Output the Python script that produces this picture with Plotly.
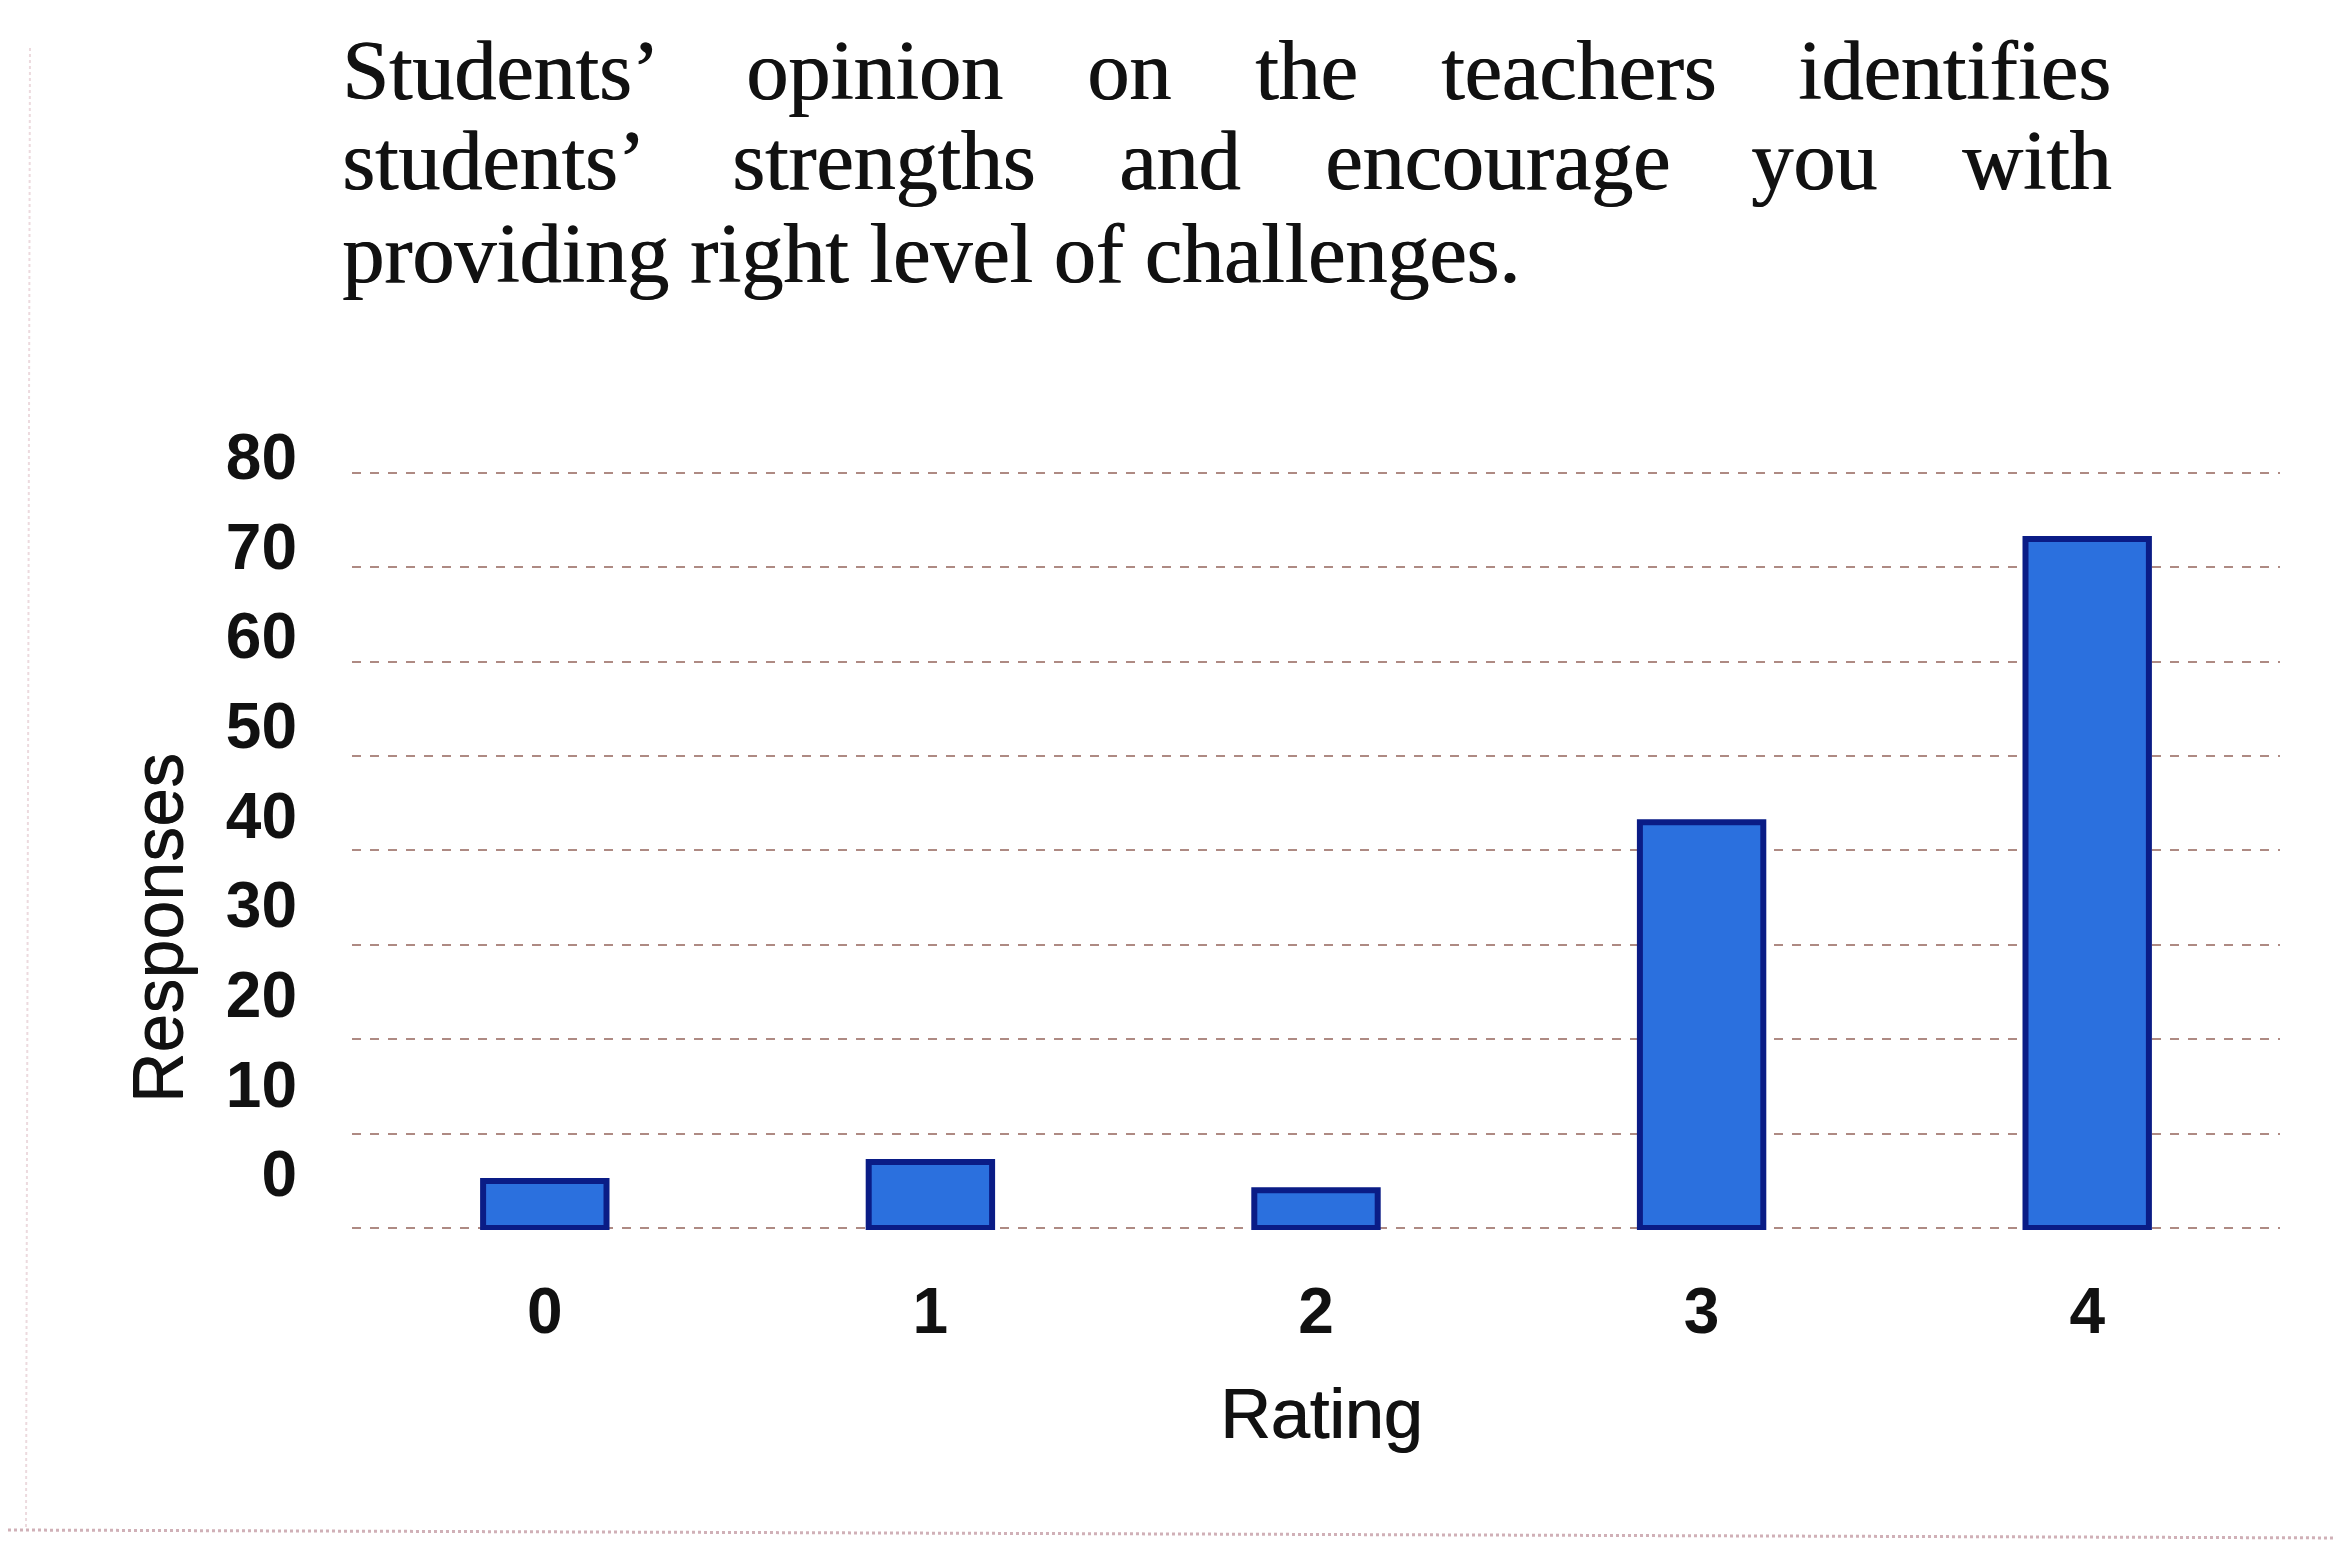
import plotly.graph_objects as go

# ---- data ----
ratings = [0, 1, 2, 3, 4]
responses = [5, 7, 4, 43, 73]
y_ticks = [0, 10, 20, 30, 40, 50, 60, 70, 80]
x_tick_labels = ["0", "1", "2", "3", "4"]

title_line1 = ["Students’", "opinion", "on", "the", "teachers", "identifies"]
title_line2 = ["students’", "strengths", "and", "encourage", "you", "with"]
title_line3 = "providing right level of challenges."

# ---- layout geometry (pixels) ----
W, H = 2344, 1543
L, R, T, B = 344, 72, 445, 321
PW, PH = W - L - R, H - T - B


def px_x(x):
    return (x - L) / PW


def px_y(y):
    return (H - B - y) / PH


fig = go.Figure()
fig.add_trace(go.Bar(
    x=ratings, y=responses, width=0.32,
    marker=dict(color="#2b70de", line=dict(color="#0a1c86", width=6)),
))
# invisible trace carrying the (offset) tick-label axis as in the scanned original
fig.add_trace(go.Scatter(x=[ratings[0]], y=[y_ticks[0]], yaxis="y2", mode="markers",
                         marker=dict(opacity=0), hoverinfo="skip"))

ann = []
serif = dict(family="Liberation Serif", size=84, color="#111111", shadow="1px 0px 0px #111111")
# justified title lines: first word left, last word right, middle words centred
line1_x = [332, 866, 1121, 1298, 1570, 2105]
line2_x = [332, 875, 1171, 1489, 1806, 2105]
for words, xs, yc in [(title_line1, line1_x, 62), (title_line2, line2_x, 153)]:
    n = len(words)
    for i, (w, x) in enumerate(zip(words, xs)):
        anchor = "left" if i == 0 else ("right" if i == n - 1 else "center")
        ann.append(dict(text=w, x=px_x(x), y=px_y(yc), xref="paper", yref="paper",
                        xanchor=anchor, yanchor="middle", showarrow=False, font=serif))
ann.append(dict(text=title_line3, x=px_x(332), y=px_y(245), xref="paper", yref="paper",
                xanchor="left", yanchor="middle", showarrow=False, font=serif))

sans_title = dict(family="Liberation Sans", size=70, color="#111111", shadow="1px 0px 0px #111111")
ann.append(dict(text="Rating", x=px_x(1313), y=px_y(1406), xref="paper", yref="paper",
                xanchor="center", yanchor="middle", showarrow=False, font=sans_title))
ann.append(dict(text="Responses", x=px_x(150), y=px_y(920), xref="paper", yref="paper",
                xanchor="center", yanchor="middle", showarrow=False, textangle=-90,
                font=dict(family="Liberation Sans", size=70, color="#111111",
                          shadow="0px 1px 0px #111111")))

tick_font = dict(family="Liberation Sans", size=64, color="#111111", weight="bold")

fig.update_layout(
    width=W, height=H,
    margin=dict(l=L, r=R, t=T, b=B, pad=0),
    paper_bgcolor="white", plot_bgcolor="white",
    showlegend=False,
    annotations=ann,
    shapes=[
        dict(type="line", xref="paper", yref="paper",
             x0=px_x(0), x1=px_x(2344), y0=px_y(1522), y1=px_y(1530),
             line=dict(color="rgba(150,80,95,0.45)", width=3, dash="dot")),
        dict(type="line", xref="paper", yref="paper",
             x0=px_x(22), x1=px_x(18), y0=px_y(40), y1=px_y(1520),
             line=dict(color="rgba(200,150,160,0.35)", width=2, dash="dot")),
    ],
    xaxis=dict(
        range=[-0.5, 4.5], tickmode="array", tickvals=ratings, ticktext=x_tick_labels,
        showgrid=False, zeroline=False, showline=False, ticks="",
        tickfont=tick_font, ticklabelstandoff=38,
    ),
    yaxis=dict(
        range=[-0.2, 82.1], tickmode="array", tickvals=y_ticks, showticklabels=False,
        showgrid=True, gridcolor="rgba(130,75,65,0.65)", gridwidth=2, griddash="dash",
        zeroline=False, showline=False, ticks="",
    ),
    yaxis2=dict(
        overlaying="y", side="left", range=[-6.24, 80.39],
        tickmode="array", tickvals=y_ticks,
        showgrid=False, zeroline=False, showline=False, ticks="",
        tickfont=tick_font, ticklabelstandoff=54,
    ),
)

fig.write_html("out.html")
